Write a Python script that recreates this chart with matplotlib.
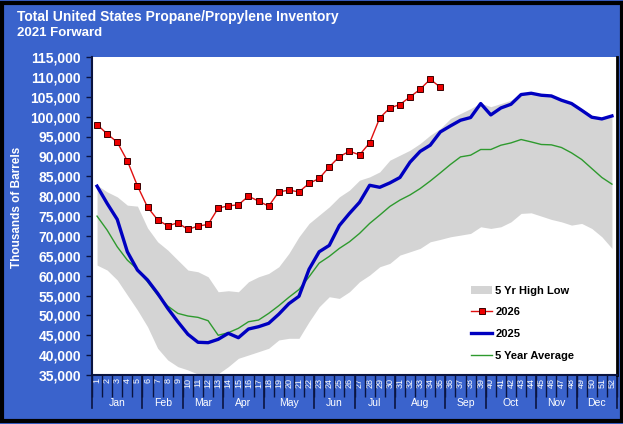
import matplotlib
matplotlib.use('Agg')
import matplotlib.pyplot as plt
import matplotlib.transforms as mtransforms
from matplotlib.patches import Rectangle, Patch
from matplotlib.lines import Line2D
import numpy as np

weeks = np.arange(1, 53)
months = ['Jan', 'Feb', 'Mar', 'Apr', 'May', 'Jun', 'Jul', 'Aug', 'Sep', 'Oct', 'Nov', 'Dec']
month_weeks = [5, 4, 4, 4, 5, 4, 4, 5, 4, 5, 4, 4]

# 5 yr high / low band
high_5yr = [82760, 81070, 79820, 77730, 77480, 72000, 68510, 66430, 63900, 61400,
            60970, 59710, 55940, 56200, 55940, 58460, 59710, 60550, 62230, 65580,
            69770, 73130, 75220, 77300, 79820, 81500, 84010, 84840, 86100, 89040,
            90300, 91550, 93230, 95320, 97000, 99520, 100780, 102030, 103400, 102500,
            103290, 104120, 105800, 105950, 105450, 105250, 104300, 103440, 102030, 100350,
            99770, 100350]
low_5yr = [62650, 61400, 58900, 55110, 51340, 47150, 41720, 38780, 37100, 36270,
           35200, 34500, 35300, 37100, 39200, 40030, 40870, 41720, 43810, 44230,
           44230, 48400, 52170, 54690, 54270, 55940, 58460, 60140, 62230, 63080,
           65170, 66000, 66850, 68510, 69110, 69770, 70190, 70620, 72290, 71870,
           72290, 73530, 75650, 75800, 74970, 74140, 73530, 72710, 73130, 71870,
           69770, 66850]

y2026 = [98010, 95650, 93560, 88870, 82580, 77230, 74040, 72530, 73280, 71630,
         72460, 72880, 76980, 77560, 77810, 79990, 78740, 77480, 81070, 81500,
         81070, 83190, 84440, 87360, 89920, 91300, 90370, 93390, 99670, 102180,
         103040, 104950, 106880, 109400, 107390]

y2025 = [82510, 78160, 74140, 66000, 61400, 58900, 55540, 51770, 48400, 45240,
         43230, 43130, 43980, 45490, 44385, 46570, 47150, 48000, 50300, 52950,
         54800, 61600, 66000, 67600, 72600, 75650, 78450, 82730, 82220, 83320,
         84690, 88540, 91250, 92810, 96150, 97660, 99090, 99770, 103290, 100430,
         102180, 103110, 105550, 105880, 105380, 105200, 104120, 103290, 101600, 99850,
         99420, 100170]

avg_5yr = [74970, 71450, 67250, 63900, 61575, 58460, 55100, 52350, 50500, 49840,
           49500, 48660, 44990, 45640, 46750, 48400, 48830, 50500, 52430, 54550,
           56500, 59710, 63150, 64840, 66850, 68510, 70620, 73130, 75220, 77400,
           79000, 80300, 81900, 83800, 85850, 87960, 89870, 90300, 91730, 91730,
           92810, 93390, 94240, 93640, 92990, 92900, 92230, 90875, 89220, 86950,
           84690, 83010]

plt.rcParams['font.family'] = ['Liberation Sans', 'DejaVu Sans']

W, H = 623, 424
bg = '#3a63cc'
dark = '#0a1440'

fig = plt.figure(figsize=(W / 100, H / 100), dpi=100, facecolor=bg)
# black frame round the whole picture
fig.patches.append(Rectangle((1.5 / W, 3.5 / H), 620 / W, 418 / H, transform=fig.transFigure,
                             facecolor='none', edgecolor='black', lw=3, zorder=5))

ax = fig.add_axes([92 / W, 49 / H, 525 / W, 318 / H])
ax.set_facecolor('white')

ax.fill_between(weeks, low_5yr, high_5yr, color='#d4d4d4', lw=0, zorder=1)
ax.plot(weeks, avg_5yr, color='#2e9a2e', lw=1, zorder=2)
ax.plot(weeks, y2025, color='#0000c0', lw=2.4, zorder=3)
ax.plot(weeks[:len(y2026)], y2026, color='#e01010', lw=1, marker='s', ms=5,
        mfc='#ee0000', mec='#3a0000', mew=0.7, zorder=4)

ax.set_xlim(0.5, 52.5)
ax.set_ylim(35000, 115000)

yt = np.arange(35000, 115001, 5000)
ax.set_yticks(yt)
ax.set_yticklabels([f'{v:,}' for v in yt], fontsize=10, fontweight='bold', color='white')
ax.tick_params(axis='y', length=4, width=1, color=dark, pad=4)

ax.set_xticks(weeks)
ax.set_xticklabels([str(w) for w in weeks], rotation=90, fontsize=6.5, color='white')
ax.tick_params(axis='x', which='major', length=0, pad=2)
ax.set_xticks(np.arange(0.5, 53, 1), minor=True)
ax.tick_params(axis='x', which='minor', length=16, width=1, color=dark)

for s in ['left', 'bottom']:
    ax.spines[s].set_color(dark)
    ax.spines[s].set_linewidth(1.5)
ax.spines['right'].set_color('black')
ax.spines['right'].set_linewidth(2)
ax.spines['top'].set_visible(False)

# month separators and labels
trans = mtransforms.blended_transform_factory(ax.transData, ax.transAxes)
edges = np.concatenate([[0], np.cumsum(month_weeks)]) + 0.5
for e in edges:
    ax.add_line(Line2D([e, e], [0, -33 / 318], transform=trans, color=dark, lw=1.2, clip_on=False))
for i, m in enumerate(months):
    ax.text((edges[i] + edges[i + 1]) / 2, -28 / 318, m, transform=trans, ha='center',
            va='center', fontsize=7.5, color='white')

fig.text(17 / W, 1 - 17 / H, 'Total United States Propane/Propylene Inventory',
         fontsize=10, fontweight='bold', color='white', va='center')
fig.text(17 / W, 1 - 33 / H, '2021 Forward', fontsize=9.5, fontweight='bold',
         color='white', va='center')
fig.text(17 / W, 1 - 207 / H, 'Thousands of Barrels', rotation=90, fontsize=8.5,
         fontweight='bold', color='white', ha='center', va='center')

handles = [Patch(facecolor='#d4d4d4', edgecolor='none'),
           Line2D([], [], color='#e01010', lw=1, marker='s', ms=5, mfc='#ee0000', mec='#3a0000', mew=0.7),
           Line2D([], [], color='#0000c0', lw=2.4),
           Line2D([], [], color='#2e9a2e', lw=1)]
labels = ['5 Yr High Low', '2026', '2025', '5 Year Average']
leg = ax.legend(handles, labels, loc='upper left', bbox_to_anchor=(0.714, 0.295), frameon=False,
                prop={'size': 8, 'weight': 'bold'}, handlelength=1.9, handletextpad=0.25,
                labelspacing=1.05, borderaxespad=0)

fig.savefig('out.png', dpi=100, facecolor=bg)
